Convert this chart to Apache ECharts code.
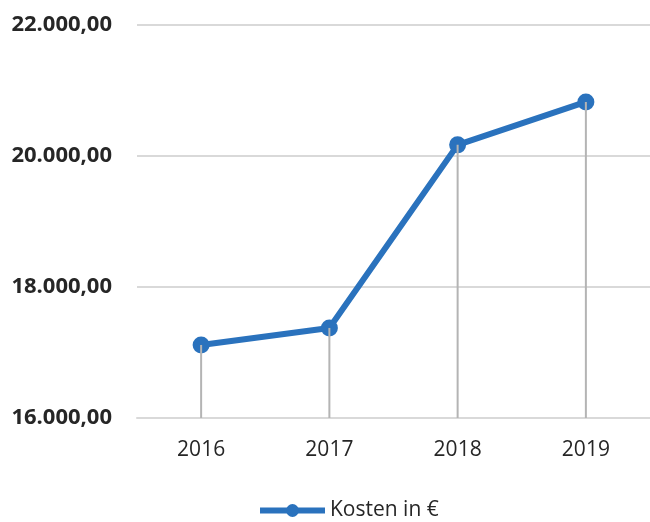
<!DOCTYPE html>
<html><head><meta charset="utf-8">
<script src="https://cdn.jsdelivr.net/npm/echarts@6/dist/echarts.min.js"></script>
<style>html,body{margin:0;padding:0;background:#fff}#c{width:650px;height:522px}</style>
</head><body><div id="c"></div>
<script>
const categories = ['2016', '2017', '2018', '2019'];
const kosten = [17115, 17375, 20170, 20825];
const seriesName = 'Kosten in €';
const yMin = 16000, yMax = 22000, yStep = 2000;

function fmt(v) {
  const s = Math.round(v).toString().replace(/\B(?=(\d{3})+(?!\d))/g, '.');
  return s + ',00';
}

const chart = echarts.init(document.getElementById('c'));
chart.setOption({
  animation: false,
  grid: { left: 137, right: -3, top: 25, bottom: 104 },
  legend: {
    data: [seriesName], top: 495, left: 252,
    itemWidth: 65, itemHeight: 16, itemGap: 6,
    lineStyle: { width: 6 },
    textStyle: { fontFamily: 'Open Sans', fontSize: 21, color: '#262626', padding: [0, 0, 0, 0] }
  },
  xAxis: {
    type: 'category', data: categories,
    axisLine: { lineStyle: { color: '#d9d9d9', width: 2 } },
    axisTick: { show: false },
    axisLabel: { fontFamily: 'Open Sans', fontSize: 21, color: '#262626', margin: 22 }
  },
  yAxis: {
    type: 'value', min: yMin, max: yMax, interval: yStep,
    axisLine: { show: false }, axisTick: { show: false },
    splitLine: { lineStyle: { color: '#d9d9d9', width: 2 } },
    axisLabel: { fontFamily: 'Open Sans', fontWeight: 'bold', fontSize: 22, color: '#262626', margin: 25, formatter: fmt }
  },
  series: [
    {
      name: seriesName, type: 'line', data: kosten, z: 2,
      symbol: 'circle', symbolSize: 17,
      lineStyle: { color: '#2a72bd', width: 6 },
      itemStyle: { color: '#2a72bd' }
    },
    {
      name: 'drop', type: 'bar', data: kosten, barWidth: 2, z: 3,
      itemStyle: { color: '#b4b4b4' }, silent: true
    }
  ]
});
</script></body></html>
